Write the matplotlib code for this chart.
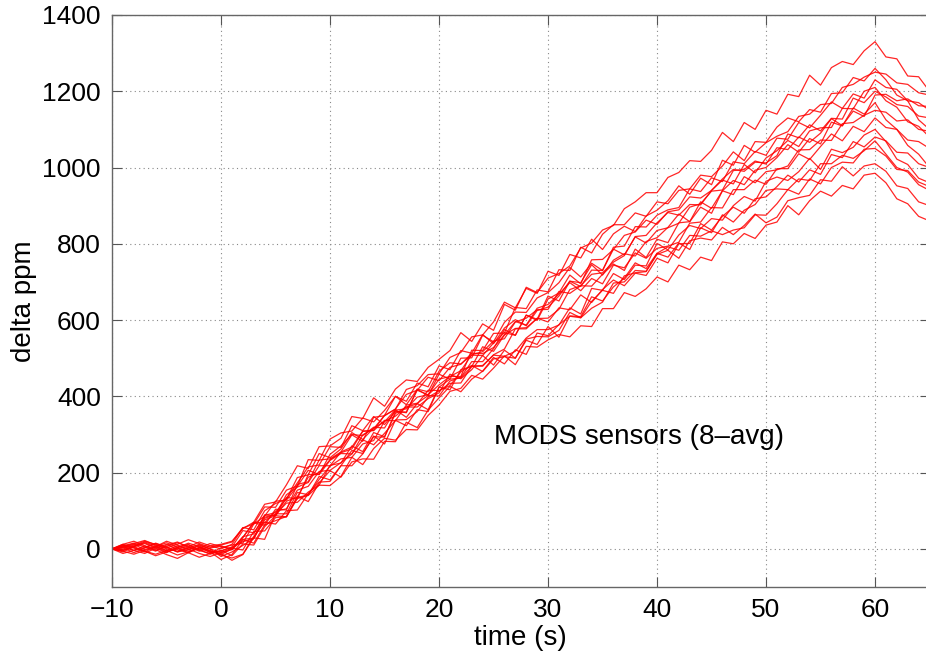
#!/usr/bin/env python3
# -*- coding: utf-8 -*-

import numpy
import matplotlib
matplotlib.use("Agg")
import matplotlib.pyplot as plt

plt.rcParams['font.family'] = ['Liberation Sans', 'DejaVu Sans']

# time axis, one sample per second
time = numpy.arange(-10, 66)

# delta ppm for each sensor (8-avg)
s01 = [0, 8, 15, 5, -6, 10, 18, 4, -3, 8, 12, 20,
       53, 70, 117, 123, 168, 218, 211, 268, 270,
       290, 347, 342, 396, 374, 419, 443, 439, 476, 497,
       520, 567, 544, 590, 573, 641, 626, 686, 672, 710,
       722, 742, 789, 802, 836, 848, 892, 910, 934, 934,
       974, 987, 1018, 1016, 1045, 1092, 1068, 1118, 1100, 1150,
       1140, 1192, 1186, 1242, 1216, 1262, 1278, 1270, 1306, 1330,
       1290, 1285, 1240, 1238, 1200]
s02 = [0, -5, 6, 14, 2, -10, 5, 12, -4, -12, 3, 10,
       15, 65, 86, 125, 128, 164, 206, 195, 248,
       270, 300, 297, 319, 317, 364, 367, 398, 404, 430,
       452, 452, 521, 520, 565, 566, 633, 630, 679, 674,
       732, 730, 791, 776, 825, 850, 850, 881, 872, 910,
       905, 940, 944, 980, 976, 1004, 1041, 1018, 1068, 1066,
       1106, 1130, 1120, 1152, 1145, 1194, 1196, 1236, 1227, 1260,
       1230, 1190, 1175, 1125, 1100]
s03 = [0, 12, 4, -8, 6, 20, 10, -2, 8, -6, -15, 0,
       30, 70, 68, 99, 105, 154, 164, 203, 206,
       226, 249, 299, 315, 350, 366, 418, 428, 457, 459,
       502, 515, 556, 561, 595, 647, 632, 683, 670, 728,
       717, 772, 763, 812, 785, 826, 846, 832, 873, 888,
       913, 952, 930, 972, 955, 1019, 1006, 1058, 1040, 1065,
       1082, 1094, 1134, 1140, 1165, 1168, 1210, 1218, 1237, 1250,
       1245, 1222, 1218, 1196, 1190]
s04 = [0, 3, -10, 2, 15, 5, -8, -2, 10, 0, -20, -8,
       9, 27, 76, 87, 125, 136, 188, 200, 234,
       252, 262, 308, 311, 350, 400, 387, 435, 425, 480,
       470, 520, 513, 562, 538, 579, 601, 585, 625, 634,
       663, 702, 688, 731, 730, 791, 794, 845, 844, 875,
       889, 895, 944, 937, 973, 963, 1015, 1010, 1042, 1032,
       1077, 1074, 1118, 1104, 1137, 1172, 1155, 1193, 1182, 1230,
       1210, 1205, 1175, 1170, 1150]
s05 = [0, -8, 5, 18, 8, -5, 3, 15, 6, -10, -5, 5,
       48, 42, 83, 90, 142, 162, 174, 218, 218,
       254, 299, 282, 345, 349, 367, 405, 416, 450, 441,
       476, 484, 513, 512, 528, 561, 578, 580, 604, 605,
       628, 680, 690, 720, 724, 752, 769, 819, 822, 855,
       882, 875, 903, 902, 940, 967, 957, 1008, 986, 1025,
       1044, 1071, 1055, 1096, 1104, 1105, 1155, 1154, 1200, 1210,
       1175, 1158, 1120, 1108, 1080]
s06 = [0, 10, 2, -6, -14, -4, 8, 0, -12, -20, -10, -2,
       32, 39, 88, 95, 132, 173, 215, 220, 268,
       266, 323, 310, 347, 326, 361, 357, 419, 412, 466,
       488, 485, 508, 507, 540, 567, 560, 613, 599, 655,
       671, 718, 695, 758, 759, 785, 822, 831, 862, 851,
       884, 889, 923, 920, 940, 970, 995, 990, 1014, 1012,
       1031, 1088, 1078, 1112, 1096, 1129, 1127, 1182, 1170, 1200,
       1185, 1165, 1160, 1135, 1130]
s07 = [0, 6, 14, 22, 10, 0, -6, 5, 18, 8, 0, 12,
       55, 65, 110, 109, 154, 165, 234, 232, 288,
       304, 309, 343, 333, 363, 400, 378, 418, 402, 458,
       445, 500, 501, 560, 543, 594, 621, 620, 658, 672,
       698, 738, 713, 749, 730, 786, 771, 818, 802, 835,
       842, 854, 896, 905, 938, 941, 992, 995, 1017, 1009,
       1052, 1047, 1080, 1066, 1090, 1128, 1110, 1148, 1134, 1190,
       1192, 1175, 1180, 1162, 1160]
s08 = [0, -12, -4, 8, -2, -15, -25, -10, 2, -8, -28, -15,
       24, 15, 63, 74, 85, 135, 141, 190, 181,
       218, 258, 250, 294, 293, 359, 359, 416, 404, 445,
       452, 467, 509, 517, 545, 551, 595, 605, 627, 628,
       675, 670, 690, 689, 720, 747, 730, 786, 764, 812,
       803, 855, 858, 910, 893, 939, 966, 955, 993, 1000,
       1026, 1060, 1040, 1076, 1062, 1119, 1109, 1156, 1140, 1170,
       1125, 1100, 1058, 1035, 1000]
s09 = [0, 4, 12, -2, 6, 16, 4, -6, 2, 14, 6, 0,
       30, 68, 62, 104, 102, 169, 176, 233, 236,
       254, 267, 309, 310, 337, 336, 377, 382, 402, 401,
       440, 450, 491, 491, 525, 575, 560, 613, 602, 663,
       650, 702, 698, 745, 718, 757, 774, 768, 806, 816,
       843, 878, 858, 896, 880, 939, 929, 976, 960, 989,
       994, 1004, 1046, 1047, 1072, 1071, 1115, 1118, 1137, 1150,
       1145, 1122, 1125, 1100, 1095]
s10 = [0, -4, 8, 16, 4, -8, 0, 10, -2, -14, -6, 4,
       19, 27, 89, 87, 135, 131, 195, 195, 232,
       250, 249, 286, 273, 303, 337, 323, 365, 360, 424,
       417, 470, 478, 530, 518, 561, 596, 587, 631, 641,
       668, 698, 677, 709, 695, 744, 737, 776, 762, 788,
       794, 804, 854, 857, 895, 894, 942, 942, 967, 956,
       997, 997, 1036, 1021, 1055, 1088, 1070, 1108, 1094, 1130,
       1105, 1100, 1072, 1068, 1050]
s11 = [0, 8, -4, -12, 2, 12, -2, -10, 4, -4, -16, -24,
       -14, 33, 70, 65, 100, 102, 145, 175, 177,
       218, 218, 249, 296, 275, 338, 339, 360, 398, 414,
       434, 435, 479, 481, 508, 505, 518, 553, 575, 575,
       587, 632, 616, 683, 678, 722, 706, 744, 742, 801,
       784, 823, 848, 840, 866, 862, 900, 924, 912, 964,
       975, 966, 989, 1024, 995, 1048, 1039, 1053, 1085, 1100,
       1068, 1022, 1008, 972, 960]
s12 = [0, 2, 10, 20, 12, 2, 12, 24, 14, 4, 10, 18,
       56, 50, 100, 119, 130, 187, 194, 250, 239,
       262, 305, 287, 317, 333, 365, 345, 381, 365, 424,
       445, 448, 479, 479, 509, 524, 577, 577, 605, 595,
       632, 627, 666, 646, 680, 705, 690, 723, 717, 762,
       750, 800, 801, 853, 836, 872, 896, 880, 918, 923,
       950, 980, 962, 994, 982, 1034, 1026, 1068, 1054, 1080,
       1070, 1040, 1038, 1010, 1000]
s13 = [0, -6, -14, -4, 6, -4, -16, -8, 4, -6, -12, -30,
       -15, 29, 25, 92, 92, 148, 142, 182, 217,
       236, 240, 275, 284, 335, 348, 372, 372, 394, 409,
       458, 446, 470, 507, 482, 521, 500, 550, 557, 556,
       573, 620, 606, 649, 678, 670, 716, 724, 727, 775,
       765, 802, 785, 842, 829, 876, 857, 888, 903, 940,
       944, 942, 970, 966, 1010, 1010, 1032, 1024, 1044, 1070,
       1035, 1000, 988, 955, 940]
s14 = [0, 12, 20, 8, -4, 6, 16, 6, -6, 2, 8, -2,
       25, 28, 80, 90, 120, 122, 149, 167, 219,
       225, 270, 255, 305, 294, 355, 372, 380, 416, 415,
       428, 464, 481, 465, 498, 504, 500, 547, 536, 583,
       555, 611, 609, 661, 650, 687, 710, 750, 735, 775,
       792, 783, 822, 820, 834, 824, 836, 842, 876, 875,
       905, 942, 930, 970, 957, 1000, 1014, 1012, 1048, 1050,
       1030, 995, 992, 962, 950]
s15 = [0, -2, 6, -6, -18, -8, 2, -10, -22, -12, -4, -18,
       13, 10, 58, 87, 84, 138, 124, 173, 205,
       188, 228, 236, 235, 282, 281, 332, 318, 364, 396,
       426, 412, 445, 466, 502, 485, 522, 510, 566, 559,
       588, 610, 606, 631, 647, 697, 700, 730, 728, 772,
       783, 762, 808, 815, 810, 843, 824, 848, 878, 855,
       870, 913, 921, 927, 968, 964, 1002, 978, 1004, 1010,
       990, 952, 945, 910, 900]
s16 = [0, 6, -4, 4, 14, 4, -8, 2, 12, 0, -10, 2,
       -3, 46, 47, 82, 84, 132, 140, 167, 166,
       190, 240, 221, 263, 290, 285, 313, 312, 350, 377,
       413, 421, 455, 445, 474, 506, 483, 531, 529, 548,
       562, 556, 585, 583, 630, 630, 672, 662, 682, 713,
       700, 744, 732, 765, 756, 805, 800, 827, 814, 849,
       857, 900, 876, 913, 938, 925, 953, 944, 980, 985,
       960, 918, 905, 872, 860]

sensors = [s01, s02, s03, s04, s05, s06, s07, s08,
           s09, s10, s11, s12, s13, s14, s15, s16]

xticks = [-10, 0, 10, 20, 30, 40, 50, 60]
yticks = [0, 200, 400, 600, 800, 1000, 1200, 1400]

fig = plt.figure(figsize=(9.26, 6.51), dpi=100)
axes = fig.add_axes([0.121, 0.0983, 0.8828, 0.8787])

for s in sensors:
    axes.plot(time[:len(s)], s, color='red', linewidth=0.9, alpha=0.85)

axes.set_xlim(-10, 65)
axes.set_ylim(-100, 1400)
axes.set_xticks(xticks)
axes.set_yticks(yticks)
axes.grid(True, linestyle=(0, (1, 3)), color='#888888', linewidth=0.8)
axes.tick_params(direction='in', length=7, width=0.8, labelsize=19,
                 top=True, right=True, colors='#555555', labelcolor='black', pad=8)
for spine in axes.spines.values():
    spine.set_color('#666666')
    spine.set_linewidth(1.0)

axes.set_xlabel("time (s)", fontsize=20, labelpad=2)
axes.set_ylabel("delta ppm", fontsize=20, labelpad=4)
axes.text(25, 276, "MODS sensors (8\u2013avg)", fontsize=20, va='baseline', ha='left')

plt.savefig("out.png", dpi=100)
